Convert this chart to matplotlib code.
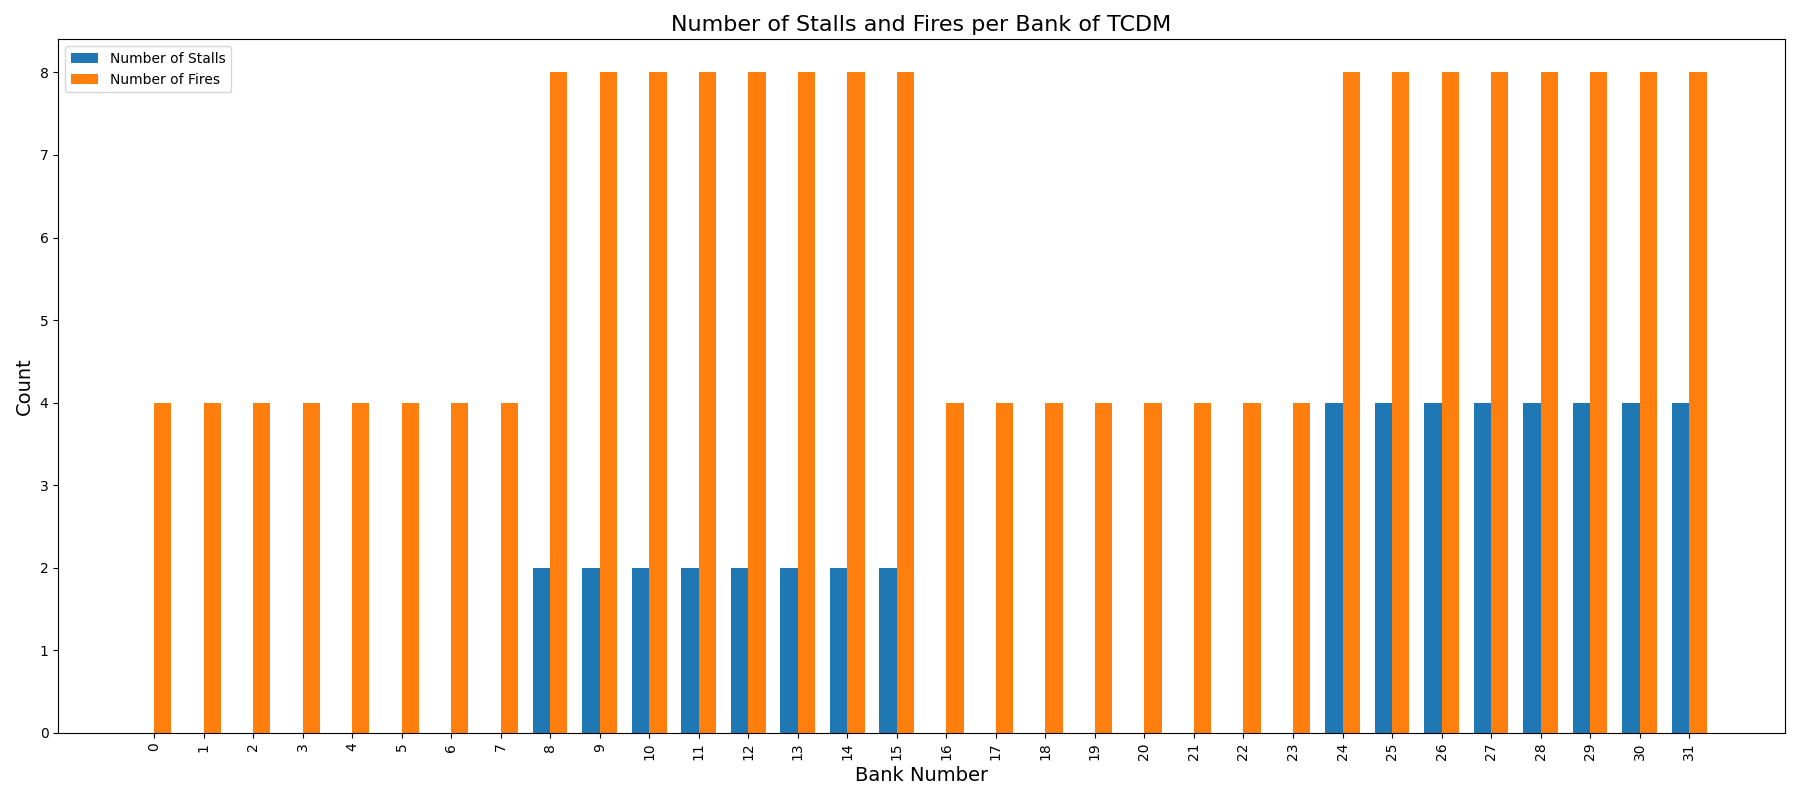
import numpy as np
import matplotlib.pyplot as plt

banks = list(range(32))
stalls = [0] * 8 + [2] * 8 + [0] * 8 + [4] * 8
fires = [4] * 8 + [8] * 8 + [4] * 8 + [8] * 8

x = np.arange(len(banks))
width = 0.35

fig, ax = plt.subplots(figsize=(18, 8))
ax.bar(x - width / 2, stalls, width, label="Number of Stalls")
ax.bar(x + width / 2, fires, width, label="Number of Fires")

ax.set_xlabel("Bank Number", fontsize=14)
ax.set_ylabel("Count", fontsize=14)
ax.set_title("Number of Stalls and Fires per Bank of TCDM", fontsize=16)
ax.set_xticks(x)
ax.set_xticklabels(banks, rotation=90)
ax.legend()

plt.tight_layout()
plt.savefig("out.png", dpi=100)
